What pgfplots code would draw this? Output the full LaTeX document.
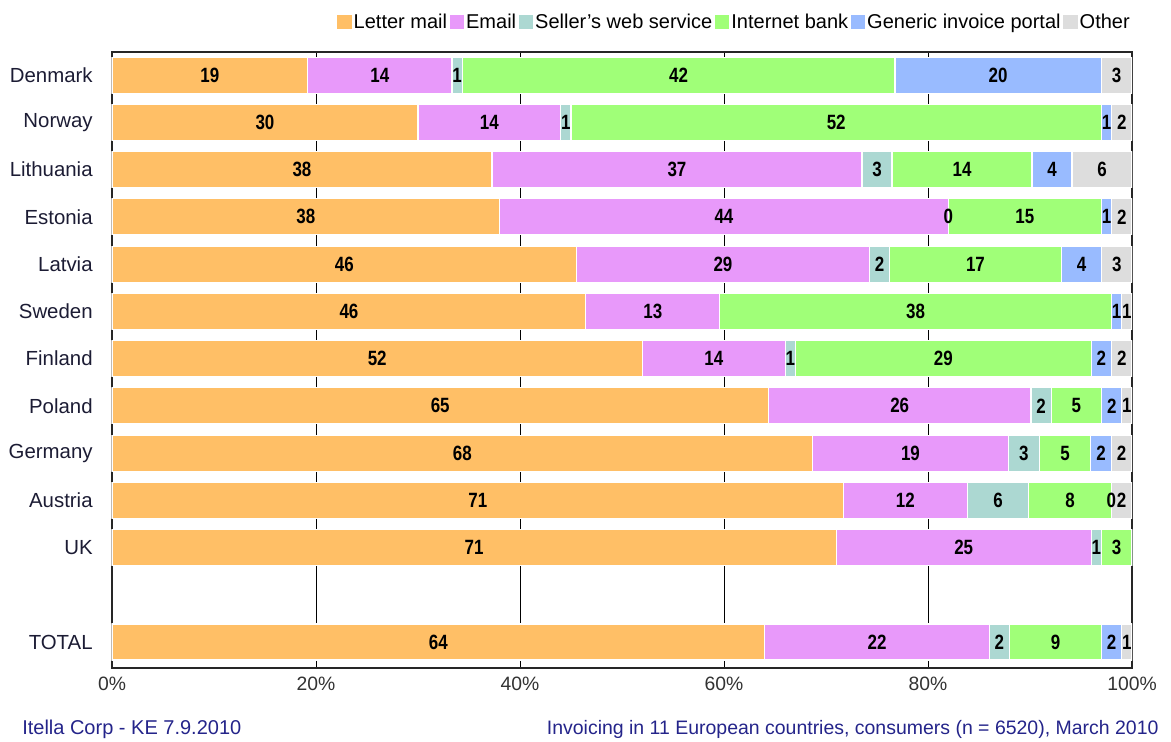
\documentclass[border=0pt]{standalone}
\usepackage{fontspec}
\setmainfont{Liberation Sans}
\newfontfamily\narrowfont[FakeStretch=0.82]{Liberation Sans}
\usepackage{pgfplots}
\usepackage{pgfplotstable}
\pgfplotsset{compat=1.18}

\definecolor{cLetter}{HTML}{FFBF66}
\definecolor{cEmail}{HTML}{E899FA}
\definecolor{cSeller}{HTML}{ACD8D2}
\definecolor{cBank}{HTML}{A0FF78}
\definecolor{cPortal}{HTML}{99BBFF}
\definecolor{cOther}{HTML}{DDDDDD}
\definecolor{navy}{HTML}{24248A}
\definecolor{catText}{HTML}{1C1C34}

% shares in %, as printed on the bars (rows do not all sum to 100)
% y: 0 = Denmark ... 10 = UK, 12 = TOTAL
\pgfplotstableread{
y  lm em sw ib gp ot
0  19 14 1  42 20 3
1  30 14 1  52 1  2
2  38 37 3  14 4  6
3  38 44 0  15 1  2
4  46 29 2  17 4  3
5  46 13 0  38 1  1
6  52 14 1  29 2  2
7  65 26 2  5  2  1
8  68 19 3  5  2  2
9  71 12 6  8  0  2
10 71 25 1  3  0  0
12 64 22 2  9  2  1
}\shares
% scale each row to 100 and build the running ends of the segments
\pgfplotstablecreatecol[expr={\thisrow{lm}+\thisrow{em}+\thisrow{sw}+\thisrow{ib}+\thisrow{gp}+\thisrow{ot}}]{n}\shares
\pgfplotstablecreatecol[expr={100*\thisrow{lm}/\thisrow{n}}]{c1}\shares
\pgfplotstablecreatecol[expr={\thisrow{c1}+100*\thisrow{em}/\thisrow{n}}]{c2}\shares
\pgfplotstablecreatecol[expr={\thisrow{c2}+100*\thisrow{sw}/\thisrow{n}}]{c3}\shares
\pgfplotstablecreatecol[expr={\thisrow{c3}+100*\thisrow{ib}/\thisrow{n}}]{c4}\shares
\pgfplotstablecreatecol[expr={\thisrow{c4}+100*\thisrow{gp}/\thisrow{n}}]{c5}\shares
\pgfplotstablecreatecol[expr={\thisrow{c5}+100*\thisrow{ot}/\thisrow{n}}]{c6}\shares

\pgfplotsset{
  seg/.style={xbar, bar width=27pt, bar shift=0pt, fill=#1, draw=white, line width=0.8pt,
    legend image code/.code={\fill[#1] (0pt,-5pt) rectangle (10pt,5pt);}},
  lbl/.style={draw=none, mark=none, forget plot, nodes near coords, point meta=explicit,
    nodes near coords style={anchor=center, inner sep=0pt, text=black,
      font=\narrowfont\bfseries\fontsize{15.5}{16}\selectfont}},
}

\begin{document}
\begin{tikzpicture}
\begin{axis}[
    scale only axis,
    width=765pt, height=462pt,
    xmin=0, xmax=100,
    ymin=-0.49, ymax=12.55,
    y dir=reverse,
    xtick={0,20,...,100},
    xticklabel={\pgfmathprintnumber{\tick}\%},
    /pgf/number format/assume math mode=true,
    ytick={0,1,2,3,4,5,6,7,8,9,10,12},
    yticklabels={Denmark,Norway,Lithuania,Estonia,Latvia,Sweden,Finland,Poland,Germany,Austria,UK,TOTAL},
    major tick length=0pt,
    xticklabel style={font=\fontsize{14.5}{15}\selectfont, text=black!80, yshift=-3pt},
    yticklabel style={font=\fontsize{15.3}{16}\selectfont, text=catText, xshift=-11pt},
    xmajorgrids,
    major grid style={black, line width=0.75pt},
    axis line style={black!85, line width=1pt},
    reverse legend,
    legend columns=-1,
    legend style={at={(1,1.049)}, anchor=east, draw=none, fill=none,
      inner xsep=0pt, inner ysep=0pt,
      font=\fontsize{15}{16}\selectfont,
      /tikz/every odd column/.append style={column sep=0pt},
      /tikz/every even column/.append style={column sep=0.5pt},
      nodes={inner xsep=1.5pt}},
]
\addplot[seg=cOther]  table[x=c6, y=y] {\shares}; \addlegendentry{Other}
\addplot[seg=cPortal] table[x=c5, y=y] {\shares}; \addlegendentry{Generic invoice portal}
\addplot[seg=cBank]   table[x=c4, y=y] {\shares}; \addlegendentry{Internet bank}
\addplot[seg=cSeller] table[x=c3, y=y] {\shares}; \addlegendentry{Seller's web service}
\addplot[seg=cEmail]  table[x=c2, y=y] {\shares}; \addlegendentry{Email}
\addplot[seg=cLetter] table[x=c1, y=y] {\shares}; \addlegendentry{Letter mail}

% value labels in the middle of each segment
\addplot[lbl] table[x expr=\thisrow{c1}/2, y=y, meta=lm] {\shares};
\addplot[lbl] table[x expr=(\thisrow{c1}+\thisrow{c2})/2, y=y, meta=em] {\shares};
\addplot[lbl, skip coords between index={5}{6}] table[x expr=(\thisrow{c2}+\thisrow{c3})/2, y=y, meta=sw] {\shares};
\addplot[lbl] table[x expr=(\thisrow{c3}+\thisrow{c4})/2, y=y, meta=ib] {\shares};
\addplot[lbl, skip coords between index={10}{11}] table[x expr=(\thisrow{c4}+\thisrow{c5})/2, y=y, meta=gp] {\shares};
\addplot[lbl, skip coords between index={10}{11}] table[x expr=(\thisrow{c5}+\thisrow{c6})/2, y=y, meta=ot] {\shares};

\coordinate (ll) at (rel axis cs:0,0);
\coordinate (ur) at (rel axis cs:1,1);
\end{axis}
\node[anchor=base west, text=navy, font=\fontsize{15}{16}\selectfont, inner sep=0pt]
  at ([shift={(-67.5pt,-50pt)}]ll) {Itella Corp - KE 7.9.2010};
\node[anchor=base west, text=navy, font=\fontsize{14.6}{16}\selectfont, inner sep=0pt]
  at ([shift={(326pt,-50pt)}]ll) {Invoicing in 11 European countries, consumers (n = 6520), March 2010};
\pgfresetboundingbox
\useasboundingbox ([shift={(-84pt,-55.5pt)}]ll) rectangle ([shift={(29.25pt,39pt)}]ur);
\end{tikzpicture}
\end{document}
